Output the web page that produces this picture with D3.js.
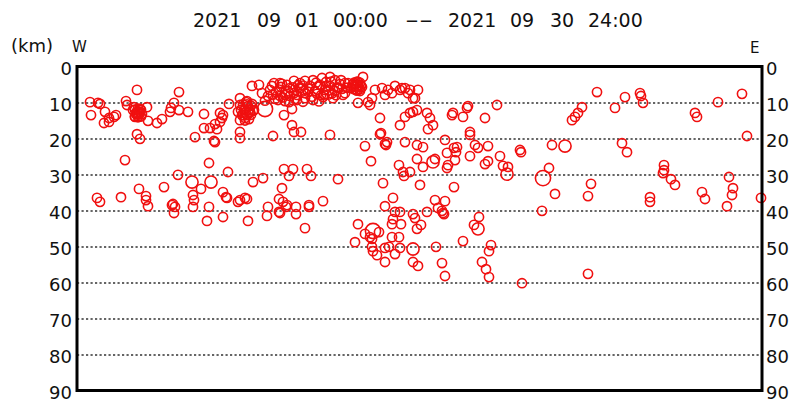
<!DOCTYPE html>
<html><head><meta charset="utf-8">
<script src="https://cdn.jsdelivr.net/npm/d3@7"></script>
<style>body{margin:0;background:#fff}svg{display:block}</style>
</head><body>
<svg id="chart" width="793" height="403"></svg>
<script>
// ---- data ----
const titleTokens = ["2021","09","01","00:00","--","2021","09","30","24:00"];
const depthTicks = [0,10,20,30,40,50,60,70,80,90];
const gridDepths = [10,20,30,40,50,60,70,80];
const unitLabel = "(km)", westLabel = "W", eastLabel = "E";
// events: [horizontal distance (W->E, units), depth km, magnitude class]
const westEvents = [[13,9.9,1],[14,13.5,1],[21,10.1,1],[23,10.4,1],[28,12.6,1],[27,15.7,1],[32,15.4,1],[32,14.3,1],[39,13.5,1],[37,14.0,1],[60,6.5,1],[49,9.6,1],[50,10.7,1],[56,12.1,1],[59,13.2,1],[63,12.6,1],[61,13.8,1],[65,13.2,1],[58,14.0,1],[63,11.8,1],[61,12.9,2],[57,11.3,1],[70,11.3,1],[71,15.1,1],[80,15.7,1],[85,14.6,1],[60,18.8,1],[63,20.1,1],[102,7.1,1],[97,10.1,1],[94,11.5,1],[93,12.6,1],[102,12.1,1],[111,12.6,1],[127,13.2,1],[127,17.1,1],[118,19.6,1],[137,20.7,1],[133,17.1,1],[138,16.0,1],[140,17.4,1],[143,15.4,1],[145,14.3,1],[143,12.9,1],[146,13.5,1],[152,10.4,1],[163,8.8,1]];
const westSwarmEvents = [[58,12.0,1],[64,12.0,1],[58,13.9,1],[64,13.9,1],[61,11.7,1],[61,14.1,1],[59,12.9,1],[63,12.9,1],[61,12.9,1]];
const westClusterEvents = [[163,10.7,1],[167,12.1,1],[171,11.0,1],[165,13.5,1],[173,12.6,1],[169,9.9,1],[161,12.6,1],[175,10.4,1],[168,14.3,1],[177,12.1,1],[163,14.9,1],[170,12.9,2],[163,18.2,1],[163,19.9,1],[188,11.8,3],[175,5.4,1],[182,5.1,1],[197,4.6,1],[203,4.6,1],[210,5.1,1],[207,13.5,1],[215,11.8,1],[215,16.3,1],[217,18.2,1],[224,18.2,1],[196,19.3,1],
  [166,10.5,1],[170,10.5,1],[174,10.9,1],[164,12.0,1],[168,12.0,1],[172,12.0,1],[176,12.3,1],[166,13.5,1],[170,13.5,1],[174,13.4,1],[168,15.0,1],[172,14.6,1],[170,9.6,1]];
const shallowClusterEvents = [[191,8.2,1],[193,6.5,1],[199,7.1,1],[204,5.7,1],[208,7.9,1],[213,6.0,1],[217,7.4,1],[223,6.0,1],[228,7.4,1],[233,5.4,1],[238,6.8,1],[243,5.1,1],[248,6.5,1],[253,5.4,1],[258,6.8,1],[263,4.9,1],[201,9.3,1],[208,9.6,1],[220,9.3,1],[236,9.3,1],[246,8.5,1],[256,8.8,1],[266,7.9,1],[217,4.0,1],[228,4.0,1],[236,3.8,1],[245,3.2,1],[253,2.9,1],[258,3.8,1],[268,4.6,1],[185,7.4,1],[195,5.4,1],[210,7.1,2],[225,6.5,2],[241,6.0,2],[251,7.4,2],[198,9.0,1],[228,8.8,1],[262,6.0,1],[271,4.6,1],[223,4.6,1],[213,8.2,1],[249,4.3,1],
  [196,7.8,1],[202,6.4,1],[206,8.6,1],[211,6.9,1],[216,5.8,1],[220,7.9,1],[226,5.3,1],[231,7.0,1],[235,8.4,1],[240,7.6,1],[244,8.0,1],[249,5.6,1],[255,7.5,1],[260,5.9,1],[265,6.2,1],[270,5.9,1],[203,8.2,1],[218,9.0,1],[232,6.2,1],[247,7.8,1],[259,8.0,1],[205,4.8,1],[239,4.5,1],[254,4.2,1],[264,3.8,1],[221,5.2,1],[188,9.5,1],[212,9.9,1],[226,9.8,1],[242,9.7,1]];
const eastSwarmEvents = [[276,4.9,1],[281,4.3,1],[285,5.7,1],[279,6.5,1],[274,6.0,1],[283,6.8,1],[280,5.4,2],[286,2.9,1],[268,7.4,1],
  [277,4.5,1],[283,4.5,1],[277,6.3,1],[283,6.3,1],[280,4.2,1],[280,6.7,1],[276,5.4,1],[284,5.4,1],[280,5.4,1],
  [281,10.1,1],[291,9.9,1],[293,10.7,1],[295,8.8,1],[298,6.5,1],[305,6.0,1],[311,6.5,1],[318,5.4,1],[325,6.0,1],[331,7.4,1],[341,6.5,1],[338,8.8,1],[323,6.5,1],[328,6.0,1],[333,6.5,1],[336,8.8,1],[308,7.9,1],[315,7.4,1]];
const centralEvents = [[303,14.3,1],[304,18.5,1],[310,21.0,1],[309,21.8,1],[323,16.3,1],[328,14.0,1],[333,12.9,1],[336,12.6,1],[340,12.1,1],[350,12.9,1],[353,14.3,1],[356,16.3,1],[351,17.4,1],[328,21.0,1],[340,21.8,1],[253,19.0,1],[288,22.1,1],[368,20.4,1],[376,12.9,1],[375,13.5,1],[386,14.0,1],[390,11.5,1],[391,11.0,1],[408,14.3,1],[420,10.7,1],[393,18.2,1],[393,19.0,1],[398,21.8,1],[411,22.1,1],[443,23.2,1],[475,21.8,1],[488,22.1,2],[495,14.9,1],[498,14.0,1],[501,12.9,1],[505,11.3,1],[520,7.1,1],[538,11.5,1],[548,8.5,1],[563,7.4,1],[564,8.2,1],[566,10.1,1],[618,12.9,1],[620,14.0,1],[641,9.9,1],[665,7.6,1],[670,19.3,1],[346,22.4,1],[340,25.7,1],[346,27.9,1],[356,26.5,2],[358,25.7,1],[370,24.0,1],[377,22.6,1],[379,23.8,1],[380,22.4,1],[378,26.0,1],[371,27.4,1],[370,28.2,1],[393,24.9,1],[401,22.6,1],[408,27.1,1],[411,26.3,1],[423,24.9,1],[426,27.6,1],[431,27.9,1],[430,29.9,2],[444,23.8,1],[326,29.3,1],[327,30.4,1],[333,29.3,1],[343,32.9,1],[377,33.5,1],[318,40.4,1],[316,42.4,1],[324,43.8,1],[315,43.8,1],[336,41.0,1],[338,42.1,1],[340,45.1,1],[344,44.0,1],[350,40.4,1],[358,37.1,1],[368,37.4,1],[361,39.3,1],[365,40.1,1],[366,40.7,1],[367,41.0,1],[323,40.4,1]];
const deepEvents = [[48,26.0,1],[20,36.5,1],[23,37.6,1],[44,36.3,1],[62,34.0,1],[69,36.0,1],[69,37.1,1],[71,38.8,1],[87,33.5,1],[101,30.1,1],[96,38.2,1],[98,39.0,1],[97,40.7,1],[95,38.5,1],[115,32.1,2],[116,35.7,1],[117,37.1,1],[116,39.0,1],[124,34.0,1],[134,32.1,2],[132,26.8,1],[132,39.0,1],[130,42.9,1],[138,21.0,1],[146,34.9,1],[149,36.3,1],[150,36.5,1],[151,29.3,1],[146,41.8,1],[161,37.6,1],[163,37.1,1],[168,36.5,1],[170,36.8,1],[171,42.9,1],[176,32.1,1],[186,31.0,1],[191,39.0,1],[190,41.5,1],[202,36.8,1],[205,33.8,1],[206,37.6,1],[209,39.0,1],[210,38.5,1],[202,40.4,1],[203,40.7,1],[207,28.5,1],[216,28.5,1],[212,30.4,1],[219,39.0,1],[219,41.0,1],[228,44.9,1],[230,28.5,1],[234,30.4,1],[232,38.5,1],[232,39.0,1],[246,37.4,1],[261,31.3,1],[294,26.3,1],[303,18.8,1],[308,21.5,1],[306,32.4,1],[316,36.5,1],[322,27.4,1],[308,38.8,1],[281,43.8,1],[288,46.5,1],[296,45.7,3],[278,48.8,1],[293,47.4,1],[302,46.0,1],[295,47.9,1],[315,47.4,1],[322,47.4,1],[295,50.1,1],[296,51.3,1],[300,52.4,1],[308,50.4,1],[312,50.1,1],[318,52.1,1],[323,50.4,1],[336,50.7,2],[308,54.3,1],[336,54.3,1],[341,55.4,1],[359,50.1,1],[365,54.6,1],[368,58.2,1],[386,48.5,1],[402,41.8,1],[397,44.0,1],[401,45.1,2],[414,49.6,1],[412,51.3,1],[405,54.3,1],[409,56.3,1],[412,58.5,1],[445,60.2,1],[511,57.6,1]];
const eastEvents = [[472,28.2,1],[466,31.0,3],[545,21.3,1],[550,23.8,1],[587,27.4,1],[587,28.8,1],[586,29.6,1],[594,31.3,1],[598,32.9,1],[652,30.7,1],[656,33.8,1],[655,35.7,1],[625,34.9,1],[628,36.8,1],[650,38.8,1],[684,36.5,1],[573,36.3,1],[573,37.6,1],[514,32.6,1],[511,36.0,1],[478,35.4,1],[465,40.1,1]];

(function () {
  const svg = d3.select("#chart");
  const FONT = "'DejaVu Sans', sans-serif";
  const L = 77, R = 762, T = 66.5, B = 390.5;
  const x = d3.scaleLinear().domain([0, 685]).range([L, R]);
  const y = d3.scaleLinear().domain([0, 90]).range([T, B]);
  const r = d3.scaleLinear().domain([1, 3]).range([4.6, 7.6]);

  // title
  const titleX = [193,257,295,333,405,448,510,550,588];
  const tg = svg.append("g").attr("font-family", FONT).attr("font-size", 19).attr("fill", "#111");
  titleTokens.forEach((t, i) => {
    const el = tg.append("text").attr("x", titleX[i]).attr("y", 27).text(t);
    if (t === "--") el.attr("textLength", 28).attr("lengthAdjust", "spacingAndGlyphs");
  });

  svg.append("text").attr("x", 11).attr("y", 52).attr("font-family", FONT).attr("font-size", 18).attr("fill", "#111").text(unitLabel);
  svg.append("text").attr("x", 72).attr("y", 52).attr("font-family", FONT).attr("font-size", 15).attr("fill", "#111").text(westLabel);
  svg.append("text").attr("x", 750).attr("y", 53).attr("font-family", FONT).attr("font-size", 15).attr("fill", "#111").text(eastLabel);

  // grid lines
  svg.append("g").attr("transform", `translate(${L},0)`)
    .call(d3.axisLeft(y).tickValues(gridDepths).tickSize(-(R - L)).tickFormat(""))
    .call(g => g.select(".domain").remove())
    .call(g => g.selectAll("line").attr("stroke", "#333").attr("stroke-width", 1.3).attr("stroke-dasharray", "2.2,2.3"));

  // depth labels left/right
  const styleAxis = g => {
    g.select(".domain").remove();
    g.selectAll("line").remove();
    g.selectAll("text").attr("font-family", FONT).attr("font-size", 18).attr("fill", "#111").attr("dy", "0.42em");
  };
  svg.append("g").attr("transform", `translate(${L},0)`)
    .call(d3.axisLeft(y).tickValues(depthTicks).tickSize(0).tickPadding(5).tickFormat(d3.format("d")))
    .call(styleAxis);
  svg.append("g").attr("transform", `translate(${R},0)`)
    .call(d3.axisRight(y).tickValues(depthTicks).tickSize(0).tickPadding(4).tickFormat(d3.format("d")))
    .call(styleAxis);

  // events
  const events = [].concat(westEvents, westSwarmEvents, westClusterEvents, shallowClusterEvents, eastSwarmEvents, centralEvents, deepEvents, eastEvents);
  svg.append("g").selectAll("circle").data(events).join("circle")
    .attr("cx", d => x(d[0])).attr("cy", d => y(d[1])).attr("r", d => r(d[2]))
    .attr("fill", "none").attr("stroke", "#f01010").attr("stroke-width", 1.6);

  // frame
  svg.append("rect").attr("x", L).attr("y", T).attr("width", R - L).attr("height", B - T)
    .attr("fill", "none").attr("stroke", "#000").attr("stroke-width", 3);
})();
</script>
</body></html>
